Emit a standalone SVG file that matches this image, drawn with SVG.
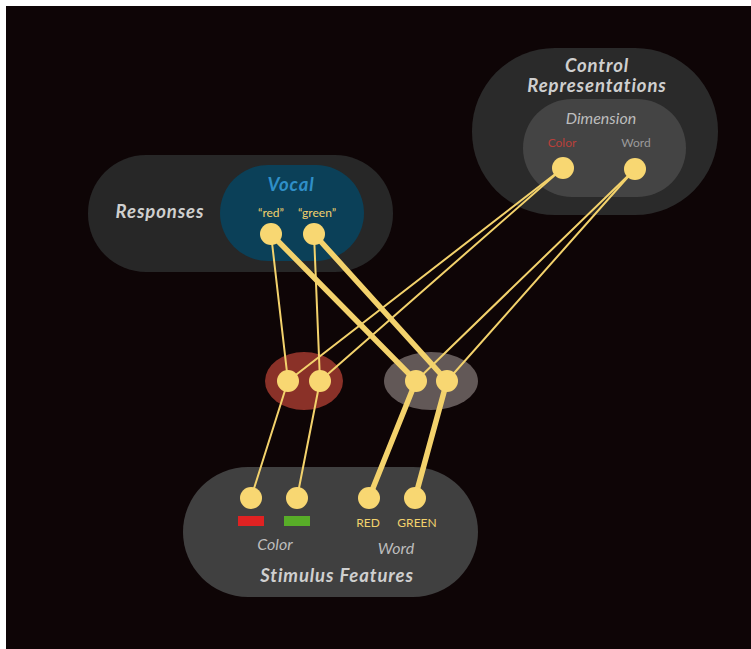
<svg xmlns="http://www.w3.org/2000/svg" width="751" height="649" viewBox="0 0 751 649">
<style>
.bg{fill:#0e0506}
.node{fill:#f8d772}
.thin{stroke:#f3d26c;stroke-width:2;fill:none;stroke-linecap:round}
.thick{stroke:#f3d26c;stroke-width:5.5;fill:none;stroke-linecap:round}
.title{font-family:Lato,"Open Sans",sans-serif;font-weight:bold;font-style:italic;font-size:18.5px;letter-spacing:0.9px;fill:#cfcfcf;text-anchor:middle}
.sub{font-family:Lato,"Open Sans",sans-serif;font-style:italic;font-size:16px;fill:#bdbdbd;text-anchor:middle}
.lbl{font-family:Lato,"Open Sans",sans-serif;font-size:12px;text-anchor:middle}
</style>
<rect x="0" y="0" width="751" height="649" fill="#ffffff"/>
<rect class="bg" x="6" y="6" width="745" height="643"/>
<g id="control">
<rect x="472" y="48" width="246" height="167" rx="83" fill="#2a2a2a"/>
<rect x="523" y="99" width="163" height="98" rx="49" fill="#444444"/>
<text class="title" x="597" y="72">Control</text>
<text class="title" x="597" y="92">Representations</text>
<text class="sub" x="601" y="124">Dimension</text>
<text class="lbl" x="562" y="147" fill="#b8403a">Color</text>
<text class="lbl" x="636" y="147" fill="#9a9a9a">Word</text>
</g>
<g id="responses">
<rect x="88" y="155" width="305" height="117" rx="58" fill="#272727"/>
<rect x="220" y="165" width="144" height="96" rx="48" fill="#0b4058"/>
<text class="title" x="160" y="218">Responses</text>
<text class="title" x="291" y="191" style="fill:#2f8fc8">Vocal</text>
<text class="lbl" x="271" y="217" fill="#f3d26c" font-size="13">“red”</text>
<text class="lbl" x="317" y="217" fill="#f3d26c" font-size="13">“green”</text>
</g>
<g id="hidden-color">
<ellipse cx="304" cy="381" rx="39" ry="29" fill="#8a3128"/>
</g>
<g id="hidden-word">
<ellipse cx="431" cy="381" rx="47" ry="29" fill="#625857"/>
</g>
<g id="stimulus">
<rect x="183" y="467" width="295" height="130" rx="65" fill="#404040"/>
<rect x="238" y="516" width="26" height="10" fill="#e02222"/>
<rect x="284" y="516" width="26" height="10" fill="#58ad28"/>
<text class="lbl" x="368" y="527" fill="#f3d26c">RED</text>
<text class="lbl" x="417" y="527" fill="#f3d26c">GREEN</text>
<text class="sub" x="275" y="550">Color</text>
<text class="sub" x="396" y="554">Word</text>
<text class="title" x="337" y="582">Stimulus Features</text>
</g>
<g id="connectors">
<line class="thin" x1="271" y1="234" x2="288" y2="381"/>
<line class="thin" x1="314" y1="234" x2="320" y2="381"/>
<line class="thick" x1="271" y1="234" x2="416" y2="381"/>
<line class="thick" x1="314" y1="234" x2="447" y2="381"/>
<line class="thin" x1="563" y1="168" x2="288" y2="381"/>
<line class="thin" x1="563" y1="168" x2="320" y2="381"/>
<line class="thin" x1="635" y1="169" x2="416" y2="381"/>
<line class="thin" x1="635" y1="169" x2="447" y2="381"/>
<line class="thin" x1="288" y1="381" x2="251" y2="498"/>
<line class="thin" x1="320" y1="381" x2="297" y2="498"/>
<line class="thick" x1="416" y1="381" x2="369" y2="498"/>
<line class="thick" x1="447" y1="381" x2="415" y2="498"/>
</g>
<g id="nodes">
<circle class="node" cx="563" cy="168" r="11"/>
<circle class="node" cx="635" cy="169" r="11"/>
<circle class="node" cx="271" cy="234" r="11"/>
<circle class="node" cx="314" cy="234" r="11"/>
<circle class="node" cx="288" cy="381" r="11"/>
<circle class="node" cx="320" cy="381" r="11"/>
<circle class="node" cx="416" cy="381" r="11"/>
<circle class="node" cx="447" cy="381" r="11"/>
<circle class="node" cx="251" cy="498" r="11"/>
<circle class="node" cx="297" cy="498" r="11"/>
<circle class="node" cx="369" cy="498" r="11"/>
<circle class="node" cx="415" cy="498" r="11"/>
</g>
</svg>
